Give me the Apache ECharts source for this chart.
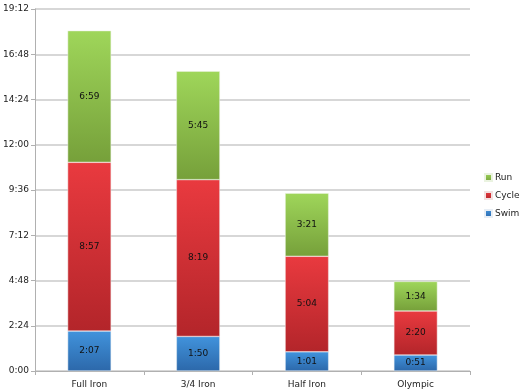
<!DOCTYPE html>
<html>
<head>
<meta charset="utf-8">
<script src="https://cdn.jsdelivr.net/npm/echarts@6/dist/echarts.min.js"></script>
<style>html,body{margin:0;padding:0;background:#fff}#c{width:525px;height:390px}</style>
</head>
<body>
<div id="c"></div>
<script>
// Values in minutes
var categories = ['Full Iron', '3/4 Iron', 'Half Iron', 'Olympic'];
var swim = [127, 110, 61, 51];
var cycle = [537, 499, 304, 140];
var run = [419, 345, 201, 94];
var seriesNames = ['Swim', 'Cycle', 'Run'];

function fmt(m) {
  var h = Math.floor(m / 60), mm = Math.round(m - h * 60);
  return h + ':' + (mm < 10 ? '0' : '') + mm;
}
function grad(top, bottom) {
  return new echarts.graphic.LinearGradient(0, 0, 0, 1, [
    { offset: 0, color: top }, { offset: 1, color: bottom }
  ]);
}
var font = 'DejaVu Sans';
var lbl = { show: true, position: 'inside', color: '#111', fontSize: 9, fontFamily: font,
  formatter: function (p) { return fmt(p.value); } };

var chart = echarts.init(document.getElementById('c'));
chart.setOption({
  animation: false,
  grid: { left: 35, right: 55, top: 9, bottom: 19, containLabel: false },
  legend: {
    orient: 'vertical', left: 479, top: 168, itemWidth: 7, itemHeight: 7, itemGap: 9,
    data: ['Run', 'Cycle', 'Swim'],
    icon: 'rect',
    textStyle: { fontSize: 9, fontFamily: font, color: '#222', padding: [0, 0, 0, -2] }
  },
  xAxis: {
    type: 'category', data: categories,
    axisLine: { lineStyle: { color: '#b0b0b0', width: 1 } },
    axisTick: { show: true, length: 4, lineStyle: { color: '#b0b0b0' } },
    axisLabel: { fontSize: 9, fontFamily: font, color: '#222', margin: 9 }
  },
  yAxis: {
    type: 'value', min: 0, max: 1152, interval: 144,
    axisLine: { show: true, lineStyle: { color: '#b0b0b0', width: 1 } },
    axisTick: { show: true, length: 4, lineStyle: { color: '#b0b0b0' } },
    splitLine: { lineStyle: { color: '#cacaca', width: 1.5 } },
    axisLabel: { fontSize: 9, fontFamily: font, color: '#222', margin: 6,
      formatter: function (v) { return fmt(v); } }
  },
  series: [
    { name: 'Swim', type: 'bar', stack: 't', data: swim, barWidth: '40%', label: lbl,
      itemStyle: { color: grad('#4193dc', '#2c68aa'), borderColor: '#e8eef5', borderWidth: 0.5 } },
    { name: 'Cycle', type: 'bar', stack: 't', data: cycle, label: lbl,
      itemStyle: { color: grad('#e93a3f', '#b3252a'), borderColor: '#f3e0e0', borderWidth: 0.5 } },
    { name: 'Run', type: 'bar', stack: 't', data: run, label: lbl,
      itemStyle: { color: grad('#9fd65a', '#76a03a'), borderColor: '#eaf3e0', borderWidth: 0.5 } }
  ]
});
</script>
</body>
</html>
